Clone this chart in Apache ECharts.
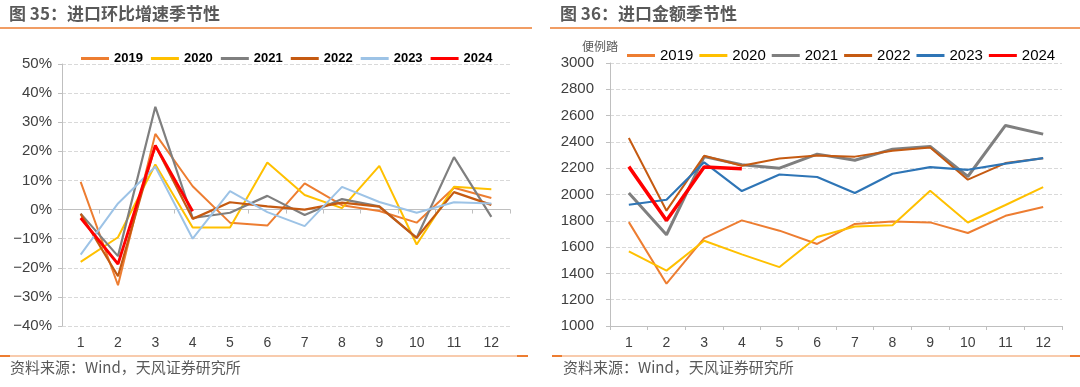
<!DOCTYPE html>
<html><head><meta charset="utf-8">
<script src="https://cdn.jsdelivr.net/npm/echarts@6/dist/echarts.min.js"></script>
<style>html,body{margin:0;padding:0;background:#fff}#c{width:1080px;height:387px}</style>
</head><body><div id="c"></div>
<script>
const months = ['1','2','3','4','5','6','7','8','9','10','11','12'];
const years = ['2019','2020','2021','2022','2023','2024'];
// Left: 进口环比增速 (%)
const mom2019 = [9.5,-26,26,8,-4.5,-5.5,9,1.5,-0.5,-4.5,7.5,4];
const mom2020 = [-18,-9.5,15.5,-6.2,-6.2,16.2,5,0.5,15,-12,7.8,7];
const mom2021 = [-1.4,-16,35.3,-2.9,-1.1,4.7,-1.9,3.6,1.1,-9.7,18,-2.5];
const mom2022 = [-1.5,-22.9,22,-3.2,2.5,1.1,0,2.4,1,-9.7,6,1.6];
const mom2023 = [-15.5,2.1,14.7,-10,6.3,-0.9,-5.7,7.8,2.6,-1.1,2.5,2.1];
const mom2024 = [-2.9,-18.7,22,-0.6];
// Right: 进口金额 (亿美元)
const amt2019 = [1790,1322,1668,1803,1725,1624,1776,1795,1788,1707,1838,1905];
const amt2020 = [1567,1421,1648,1545,1448,1677,1757,1767,2028,1787,1920,2056];
const amt2021 = [2012,1694,2288,2226,2200,2307,2260,2345,2365,2137,2525,2459];
const amt2022 = [2430,1877,2294,2219,2273,2296,2288,2332,2358,2113,2239,2275];
const amt2023 = [1922,1960,2245,2026,2152,2133,2011,2158,2208,2188,2235,2277];
const amt2024 = [2212,1803,2210,2196];
const yTicksLeft = {min:-40,max:50,interval:10};
const yTicksRight = {min:1000,max:3000,interval:200};

const leftColors = ['#ED7D31','#FFC000','#7F7F7F','#C55A11','#9DC3E6','#FF0000'];
const rightColors = ['#ED7D31','#FFC000','#7F7F7F','#C55A11','#2E75B6','#FF0000'];
const leftData = [mom2019,mom2020,mom2021,mom2022,mom2023,mom2024];
const rightData = [amt2019,amt2020,amt2021,amt2022,amt2023,amt2024];
const leftWidths = [2,2,2.2,2.2,2,2.8];
const rightWidths = [2,2,3,2,2.2,3.5];

const chart = echarts.init(document.getElementById('c'));
const axisColor = '#BFBFBF';
const labelColor = '#404040';
const font = 'Liberation Sans, Arial, sans-serif';

const series = [];
years.forEach((y,i)=>{
  series.push({name:y,type:'line',xAxisIndex:0,yAxisIndex:0,data:leftData[i],symbol:'none',
    lineStyle:{width:leftWidths[i],color:leftColors[i]},itemStyle:{color:leftColors[i]},z:i===5?10:2});
});
years.forEach((y,i)=>{
  series.push({name:y+' ',type:'line',xAxisIndex:2,yAxisIndex:1,data:rightData[i],symbol:'none',
    lineStyle:{width:rightWidths[i],color:rightColors[i]},itemStyle:{color:rightColors[i]},z:i===5?10:2});
});

chart.setOption({
  animation:false,
  textStyle:{fontFamily:font},
  legend:[
    {data:years,left:76,top:47,width:440,itemWidth:28,itemHeight:3,icon:'rect',itemGap:8,
     textStyle:{fontSize:13,fontWeight:'bold',color:'#000',fontFamily:font}},
    {data:years.map(y=>y+' '),left:622,top:43,width:450,itemWidth:28,itemHeight:3,icon:'rect',itemGap:6,
     formatter:n=>n.trim(),
     textStyle:{fontSize:15,color:'#000',fontFamily:font}}
  ],
  grid:[
    {left:62,right:570,top:64,bottom:61},
    {left:610,right:18,top:63,bottom:61}
  ],
  xAxis:[
    {type:'category',gridIndex:0,data:months,boundaryGap:true,
     axisLine:{onZero:true,lineStyle:{color:axisColor}},axisTick:{show:true,lineStyle:{color:axisColor},length:4},
     axisLabel:{show:false},splitLine:{show:false}},
    {type:'category',gridIndex:0,data:months,boundaryGap:true,position:'bottom',
     axisLine:{show:false,onZero:false},axisTick:{show:false},
     axisLabel:{color:labelColor,fontSize:14,margin:10}},
    {type:'category',gridIndex:1,data:months,boundaryGap:true,
     axisLine:{onZero:false,lineStyle:{color:axisColor}},axisTick:{show:true,lineStyle:{color:axisColor},length:4},
     axisLabel:{color:labelColor,fontSize:14,margin:10}}
  ],
  yAxis:[
    {type:'value',gridIndex:0,min:yTicksLeft.min,max:yTicksLeft.max,interval:yTicksLeft.interval,
     axisLine:{show:true,lineStyle:{color:axisColor}},axisTick:{show:true,length:4,lineStyle:{color:axisColor}},
     axisLabel:{formatter:v=>(v<0?'\u2212'+(-v):v)+'%',color:labelColor,fontSize:15,margin:10},
     splitLine:{lineStyle:{type:'dashed',color:'#D9D9D9'}}},
    {type:'value',gridIndex:1,min:yTicksRight.min,max:yTicksRight.max,interval:yTicksRight.interval,
     axisLine:{show:true,lineStyle:{color:axisColor}},axisTick:{show:true,length:4,lineStyle:{color:axisColor}},
     axisLabel:{formatter:v=>String(v),color:labelColor,fontSize:15,margin:16},
     splitLine:{lineStyle:{type:'dashed',color:'#D9D9D9'}}}
  ],
  graphic:[
    {type:'text',left:9,top:5,style:{text:'图 35：进口环比增速季节性',font:'bold 17px "Noto Sans CJK SC", sans-serif',fill:'#595959'}},
    {type:'text',left:560,top:5,style:{text:'图 36：进口金额季节性',font:'bold 17px "Noto Sans CJK SC", sans-serif',fill:'#595959'}},
    {type:'line',shape:{x1:0,y1:28,x2:532,y2:28},style:{stroke:'#ED7D31',lineWidth:1.5}},
    {type:'line',shape:{x1:550,y1:28,x2:1080,y2:28},style:{stroke:'#ED7D31',lineWidth:1.5}},
    {type:'line',shape:{x1:0,y1:356,x2:528,y2:356},style:{stroke:'#F8CBAD',lineWidth:2}},
    {type:'line',shape:{x1:0,y1:356,x2:10,y2:356},style:{stroke:'#ED7D31',lineWidth:2}},
    {type:'line',shape:{x1:517,y1:356,x2:528,y2:356},style:{stroke:'#ED7D31',lineWidth:2}},
    {type:'line',shape:{x1:552,y1:356,x2:1080,y2:356},style:{stroke:'#F8CBAD',lineWidth:2}},
    {type:'line',shape:{x1:552,y1:356,x2:562,y2:356},style:{stroke:'#ED7D31',lineWidth:2}},
    {type:'line',shape:{x1:1070,y1:356,x2:1080,y2:356},style:{stroke:'#ED7D31',lineWidth:2}},
    {type:'text',left:10,top:360,style:{text:'资料来源：Wind，天风证券研究所',font:'15px "Noto Sans CJK SC", sans-serif',fill:'#595959'}},
    {type:'text',left:563,top:360,style:{text:'资料来源：Wind，天风证券研究所',font:'15px "Noto Sans CJK SC", sans-serif',fill:'#595959'}},
    {type:'text',left:582,top:40,style:{text:'便例踏',font:'12px "Noto Sans CJK SC", sans-serif',fill:'#595959'}}
  ],
  series:series
});
</script></body></html>
